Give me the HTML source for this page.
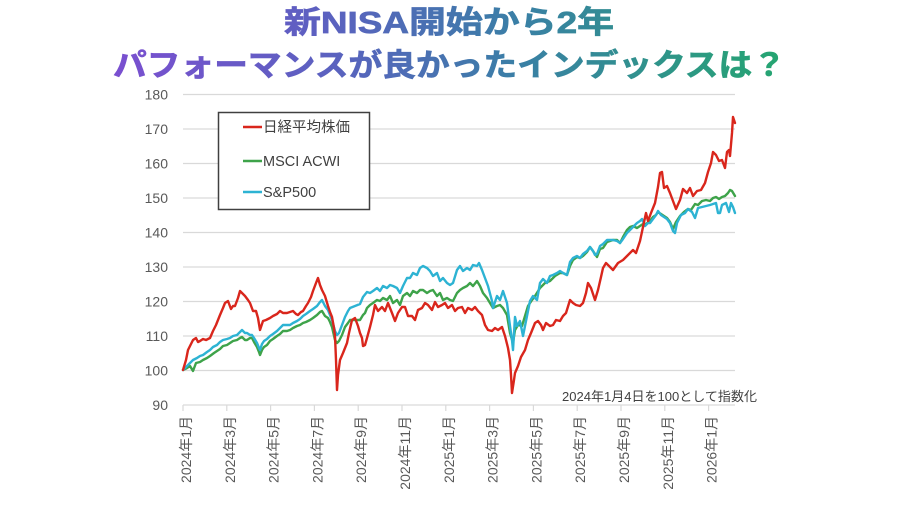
<!DOCTYPE html>
<html><head><meta charset="utf-8">
<style>
html,body{margin:0;padding:0;background:#fff;}
svg{display:block;}
</style></head>
<body>
<svg width="900" height="508" viewBox="0 0 900 508" xmlns="http://www.w3.org/2000/svg">
<defs>
<linearGradient id="tg" gradientUnits="userSpaceOnUse" x1="113" y1="0" x2="786" y2="0">
<stop offset="0" stop-color="#7a4fd0"/>
<stop offset="0.33" stop-color="#5a62bf"/>
<stop offset="0.6" stop-color="#3a7fa6"/>
<stop offset="1" stop-color="#25a670"/>
</linearGradient>
</defs>
<rect width="900" height="508" fill="#fff"/>
<g font-family="'Liberation Sans','Noto Sans CJK JP',sans-serif" font-weight="bold" font-size="31" fill="url(#tg)" stroke="url(#tg)" stroke-width="0.7">
<text x="284" y="33" textLength="330" lengthAdjust="spacingAndGlyphs">新NISA開始から2年</text>
<text x="113" y="76" textLength="673" lengthAdjust="spacingAndGlyphs">パフォーマンスが良かったインデックスは？</text>
</g>

<g stroke="#d9d9d9" stroke-width="1.2">
<line x1="183" y1="94.5" x2="735" y2="94.5"/>
<line x1="183" y1="129" x2="735" y2="129"/>
<line x1="183" y1="163.5" x2="735" y2="163.5"/>
<line x1="183" y1="198" x2="735" y2="198"/>
<line x1="183" y1="232.5" x2="735" y2="232.5"/>
<line x1="183" y1="267" x2="735" y2="267"/>
<line x1="183" y1="301.5" x2="735" y2="301.5"/>
<line x1="183" y1="336" x2="735" y2="336"/>
<line x1="183" y1="370.5" x2="735" y2="370.5"/>
<line x1="183" y1="405" x2="735" y2="405"/>
<line x1="183" y1="405" x2="183" y2="411"/>
<line x1="226.8" y1="405" x2="226.8" y2="411"/>
<line x1="270.6" y1="405" x2="270.6" y2="411"/>
<line x1="314.4" y1="405" x2="314.4" y2="411"/>
<line x1="358.2" y1="405" x2="358.2" y2="411"/>
<line x1="402" y1="405" x2="402" y2="411"/>
<line x1="445.8" y1="405" x2="445.8" y2="411"/>
<line x1="489.6" y1="405" x2="489.6" y2="411"/>
<line x1="533.4" y1="405" x2="533.4" y2="411"/>
<line x1="577.2" y1="405" x2="577.2" y2="411"/>
<line x1="621" y1="405" x2="621" y2="411"/>
<line x1="664.8" y1="405" x2="664.8" y2="411"/>
<line x1="708.6" y1="405" x2="708.6" y2="411"/>
</g>

<g font-family="'Liberation Sans','Noto Sans CJK JP',sans-serif" font-size="14" fill="#595959" text-anchor="end">
<text x="168" y="99.5">180</text>
<text x="168" y="134">170</text>
<text x="168" y="168.5">160</text>
<text x="168" y="203">150</text>
<text x="168" y="237.5">140</text>
<text x="168" y="272">130</text>
<text x="168" y="306.5">120</text>
<text x="168" y="341">110</text>
<text x="168" y="375.5">100</text>
<text x="168" y="410">90</text>
</g>

<g font-family="'Liberation Sans','Noto Sans CJK JP',sans-serif" font-size="14" fill="#595959" text-anchor="end">
<text transform="translate(191,416) rotate(-90)">2024年1月</text>
<text transform="translate(234.8,416) rotate(-90)">2024年3月</text>
<text transform="translate(278.6,416) rotate(-90)">2024年5月</text>
<text transform="translate(322.4,416) rotate(-90)">2024年7月</text>
<text transform="translate(366.2,416) rotate(-90)">2024年9月</text>
<text transform="translate(410,416) rotate(-90)">2024年11月</text>
<text transform="translate(453.8,416) rotate(-90)">2025年1月</text>
<text transform="translate(497.6,416) rotate(-90)">2025年3月</text>
<text transform="translate(541.4,416) rotate(-90)">2025年5月</text>
<text transform="translate(585.2,416) rotate(-90)">2025年7月</text>
<text transform="translate(629,416) rotate(-90)">2025年9月</text>
<text transform="translate(672.8,416) rotate(-90)">2025年11月</text>
<text transform="translate(716.6,416) rotate(-90)">2026年1月</text>
</g>

<text x="562" y="401" font-family="'Liberation Sans','Noto Sans CJK JP',sans-serif" font-size="13" fill="#404040" textLength="195" lengthAdjust="spacingAndGlyphs">2024年1月4日を100として指数化</text>

<g fill="none" stroke-width="2.4" stroke-linejoin="round" stroke-linecap="round">
<polyline stroke="#3ea34a" points="183,370 187,368 190,366 193,371 196,363 200,362 203,360 207,358 210,356 214,353 217,351 220,349 223,346 227,345 230,343 233,341 237,340 240,338 242,337 245,340 247,340 250,338 252,338 254,342 257,347 259,352 260,355 262,350 264,347 267,345 270,341 273,339 277,336 280,334 283,331 287,331 290,330 293,328 297,326 300,325 303,323 306,322 310,320 313,318 317,315 320,312 322,311 325,316 328,318 330,322 332,327 335,340 337,343 339,341 342,335 345,327 348,323 350,320 355,320 360,320 363,315 365,313 367,308 370,305 373,303 377,300 380,301 383,298 387,300 390,296 393,303 397,300 400,305 403,296 407,293 410,296 413,291 417,293 420,290 423,290 427,293 430,291 433,290 437,296 440,293 443,300 447,298 450,300 453,301 457,293 460,290 463,288 467,286 470,283 473,286 477,281 480,286 483,293 487,298 490,303 493,308 497,306 500,305 503,308 507,315 510,333 513,343 515,330 518,325 522,326 525,316 528,306 532,300 535,296 540,288 545,283 550,281 555,276 560,273 563,273 567,275 570,266 573,260 577,257 580,258 583,256 587,252 590,247 593,251 597,257 600,249 603,248 607,242 610,241 613,240 617,240 620,243 623,237 627,230 630,227 633,226 637,228 640,226 643,224 646,224 650,221 653,217 656,215 658,212 661,214 664,216 667,218 670,222 673,229 676,222 680,216 684,212 688,209 691,210 695,204 698,205 702,201 706,200 710,201 713,198 716,197 719,199 722,197 725,196 728,193 730,190 732,191 735,196"/>
<polyline stroke="#2db3d3" points="183,370 187,366 190,363 193,360 197,358 200,356 203,355 207,352 210,350 213,347 217,345 220,342 223,340 227,339 230,338 233,336 237,335 240,332 242,330 245,333 247,333 250,335 252,335 254,338 257,343 259,348 260,350 262,344 264,341 267,339 270,336 273,334 277,331 280,328 283,325 287,325 290,325 293,323 297,321 300,319 303,316 306,314 310,311 313,309 317,306 320,302 322,300 325,306 328,310 330,315 332,320 335,331 337,335 339,333 342,325 345,317 348,311 350,308 355,306 360,304 363,297 367,292 370,293 373,291 377,288 380,291 383,286 387,288 390,285 393,286 397,288 400,293 403,286 407,278 410,278 413,273 417,275 420,268 423,266 427,268 430,271 433,276 437,273 440,281 443,278 447,283 450,285 453,283 457,270 460,266 463,271 467,268 470,270 473,265 477,266 479,263 482,270 485,278 488,286 492,301 493,308 497,296 500,300 503,291 507,303 510,326 512,340 513,350 515,317 517,326 520,321 523,336 527,316 530,301 533,296 537,300 540,283 543,279 547,283 550,276 553,275 557,273 560,271 563,273 567,275 570,262 573,258 577,256 580,258 583,254 587,251 590,247 593,251 595,255 597,254 600,246 603,244 607,240 610,240 613,240 617,241 620,243 623,239 627,233 630,230 633,227 637,223 640,221 642,219 645,226 648,223 650,223 653,219 656,215 658,211 661,215 664,217 667,219 670,223 673,231 675,233 677,223 681,215 685,213 688,209 692,212 695,218 698,208 702,207 706,206 710,205 713,204 716,203 718,213 720,213 722,205 726,203 729,212 731,203 733,207 735,213"/>
<polyline stroke="#d9261c" points="183,370 186,360 188,350 190,346 193,340 196,338 198,342 200,341 203,339 206,340 210,338 213,331 216,325 220,315 223,308 225,303 228,301 231,309 233,306 235,306 238,298 240,291 243,294 245,296 248,300 250,303 253,311 256,311 258,318 260,330 263,321 266,320 270,318 273,316 277,314 280,311 283,313 287,313 290,312 293,311 296,314 298,315 301,312 303,311 306,306 308,303 311,297 313,291 316,283 318,278 320,285 322,290 325,296 328,306 330,312 332,317 334,328 335,336 336,360 337,390 338,375 340,360 343,353 345,348 347,343 349,333 352,320 355,318 358,326 360,333 362,338 363,346 365,345 367,338 370,327 373,315 375,305 378,311 382,307 385,311 388,303 392,313 395,321 398,313 402,307 405,307 408,316 412,316 415,320 418,310 422,308 425,303 428,305 432,310 435,302 438,307 442,305 445,303 448,308 452,305 455,311 458,308 462,307 465,313 468,308 472,310 475,307 478,311 482,315 485,325 488,330 492,331 495,328 498,330 502,327 505,336 508,348 510,360 511,375 512,393 514,380 515,373 518,366 521,357 525,350 528,340 531,333 535,323 538,321 541,325 543,330 546,323 550,326 553,325 556,320 560,321 563,316 566,313 570,300 573,303 576,305 580,306 583,303 586,293 588,283 591,288 595,300 598,290 601,277 603,268 606,263 610,267 613,270 618,263 623,260 628,255 633,250 636,253 640,241 643,227 646,213 648,221 651,213 655,203 658,187 660,173 662,172 664,188 667,186 670,193 673,201 676,209 680,200 683,189 687,193 690,188 693,196 697,191 701,190 705,183 708,172 711,163 713,152 716,155 719,161 722,160 725,168 727,152 729,150 730,156 732,133 733,117 735,123"/>
</g>

<rect x="218.5" y="112.5" width="151" height="97" fill="#fff" stroke="#404040" stroke-width="1.5"/>
<g stroke-width="2.4">
<line x1="243" y1="127" x2="262" y2="127" stroke="#d9261c"/>
<line x1="243" y1="161" x2="262" y2="161" stroke="#3ea34a"/>
<line x1="243" y1="192" x2="262" y2="192" stroke="#2db3d3"/>
</g>
<g font-family="'Liberation Sans','Noto Sans CJK JP',sans-serif" font-size="14.5" fill="#404040">
<text x="263" y="132">日経平均株価</text>
<text x="263" y="166">MSCI ACWI</text>
<text x="263" y="197">S&amp;P500</text>
</g>
</svg>
</body></html>
